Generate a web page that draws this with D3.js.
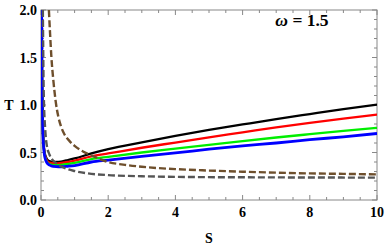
<!DOCTYPE html>
<html><head><meta charset="utf-8">
<script src="https://cdn.jsdelivr.net/npm/d3@7"></script>
<style>body{margin:0;background:#fff}svg{display:block}</style>
</head><body>
<svg id="c" width="388" height="249"></svg>
<script>
// Data
const blackS = [0.02,0.025,0.03,0.04,0.05,0.07,0.1,0.15,0.2,0.3,0.45,0.6,0.8,1,1.5,2,3,4,5,6,7,8,9,10];
const blackT = [2.0,1.6,1.3,1.0,0.82,0.63,0.52,0.45,0.42,0.405,0.40,0.405,0.42,0.437,0.49,0.535,0.607,0.675,0.737,0.795,0.852,0.905,0.957,1.005];
const redS = [0.02,0.025,0.03,0.04,0.05,0.07,0.1,0.15,0.2,0.3,0.45,0.6,0.8,1,1.5,2,3,4,5,6,7,8,9,10];
const redT = [2.0,1.6,1.3,1.0,0.81,0.62,0.505,0.435,0.405,0.39,0.385,0.39,0.40,0.415,0.46,0.49,0.55,0.605,0.66,0.712,0.765,0.812,0.856,0.898];
const greenS = [0.02,0.025,0.03,0.04,0.05,0.07,0.1,0.15,0.2,0.3,0.45,0.6,0.8,1,1.5,2,3,4,5,6,7,8,9,10];
const greenT = [2.0,1.6,1.3,1.0,0.8,0.61,0.49,0.42,0.39,0.372,0.366,0.37,0.38,0.39,0.43,0.455,0.50,0.54,0.58,0.62,0.658,0.693,0.727,0.76];
const blueS = [0.02,0.025,0.03,0.04,0.05,0.07,0.1,0.15,0.2,0.3,0.45,0.6,0.8,1,1.5,2,3,4,5,6,7,8,9,10];
const blueT = [2.0,1.6,1.3,1.0,0.79,0.6,0.48,0.41,0.38,0.36,0.352,0.35,0.355,0.362,0.40,0.42,0.46,0.495,0.535,0.57,0.60,0.635,0.665,0.70];
const brownS = [0.235,0.27,0.31,0.37,0.44,0.52,0.6,0.7,0.85,1.0,1.25,1.5,2,2.5,3,4,5,6,7,8,9,10];
const brownT = [2.0,1.75,1.5,1.25,1.03,0.87,0.77,0.69,0.62,0.57,0.51,0.47,0.40,0.37,0.35,0.325,0.31,0.298,0.288,0.28,0.275,0.27];
const grayS = [0.055,0.065,0.075,0.09,0.12,0.17,0.25,0.35,0.5,0.75,1.0,1.4,2,3,4.4,6,8,10];
const grayT = [2.0,1.6,1.25,1.0,0.77,0.58,0.48,0.42,0.375,0.33,0.305,0.28,0.262,0.25,0.242,0.239,0.237,0.235];
const xTicks = [0,2,4,6,8,10];
const yTicks = [0.0,0.5,1.0,1.5,2.0];
const xLabel = "S", yLabel = "T", annotation = "\u03c9 = 1.5";

const svg = d3.select("#c");
const L = 41, R = 377, Tp = 10, B = 200;
const x = d3.scaleLinear().domain([0,10]).range([L,R]);
const y = d3.scaleLinear().domain([0,2]).range([B,Tp]);

svg.append("defs").append("clipPath").attr("id","clip")
  .append("rect").attr("x",L).attr("y",Tp).attr("width",R-L).attr("height",B-Tp);

const frameColor = "#888";
svg.append("rect").attr("x",L).attr("y",Tp).attr("width",R-L).attr("height",B-Tp)
  .attr("fill","none").attr("stroke",frameColor).attr("stroke-width",1);

const g = svg.append("g");
const xMinor = d3.range(0,10.01,0.5).filter(v=>Math.abs(v/2-Math.round(v/2))>1e-6);
const yMinor = d3.range(0,2.001,0.1).filter(v=>Math.abs(v/0.5-Math.round(v/0.5))>1e-6);
function tickLines(vals, len, horiz){
  vals.forEach(v=>{
    if(horiz){
      const px = x(v);
      g.append("line").attr("x1",px).attr("x2",px).attr("y1",B).attr("y2",B-len).attr("stroke",frameColor);
      g.append("line").attr("x1",px).attr("x2",px).attr("y1",Tp).attr("y2",Tp+len).attr("stroke",frameColor);
    } else {
      const py = y(v);
      g.append("line").attr("x1",L).attr("x2",L+len).attr("y1",py).attr("y2",py).attr("stroke",frameColor);
      g.append("line").attr("x1",R).attr("x2",R-len).attr("y1",py).attr("y2",py).attr("stroke",frameColor);
    }
  });
}
tickLines(xTicks,5,true); tickLines(xMinor,3,true);
tickLines(yTicks,5,false); tickLines(yMinor,3,false);

const font = "'Liberation Serif','Times New Roman',serif";
svg.append("g").selectAll("text").data(xTicks).join("text")
  .attr("x",d=>x(d)).attr("y",217).attr("text-anchor","middle")
  .attr("font-family",font).attr("font-weight","bold").attr("font-size",14)
  .text(d=>d);
svg.append("g").selectAll("text").data(yTicks).join("text")
  .attr("x",37).attr("y",d=>y(d)+5).attr("text-anchor","end")
  .attr("font-family",font).attr("font-weight","bold").attr("font-size",14)
  .text(d=>d.toFixed(1));
svg.append("text").attr("x",209).attr("y",243).attr("text-anchor","middle")
  .attr("font-family",font).attr("font-weight","bold").attr("font-size",14).text(xLabel);
svg.append("text").attr("x",9).attr("y",110).attr("text-anchor","middle")
  .attr("font-family",font).attr("font-weight","bold").attr("font-size",14).text(yLabel);
const ann = svg.append("text").attr("x",302).attr("y",26).attr("text-anchor","middle")
  .attr("font-family",font).attr("font-weight","bold").attr("font-size",17.5);
ann.append("tspan").attr("font-style","italic").text("\u03c9");
ann.append("tspan").text(" = 1.5");

const line = d3.line().x(d=>x(d[0])).y(d=>y(d[1])).curve(d3.curveMonotoneX);
const plot = svg.append("g").attr("clip-path","url(#clip)");
const series = [
  {S:blackS,T:blackT,c:"#000000",w:2.3,dash:null},
  {S:redS,T:redT,c:"#ff0000",w:2.3,dash:null},
  {S:greenS,T:greenT,c:"#00ee00",w:2.3,dash:null},
  {S:blueS,T:blueT,c:"#0000ff",w:2.8,dash:null},
  {S:brownS,T:brownT,c:"#6e4f2c",w:2.4,dash:"7,3"},
  {S:grayS,T:grayT,c:"#555555",w:2.4,dash:"7,3"}
];
series.forEach(s=>{
  plot.append("path").datum(s.S.map((v,i)=>[v,s.T[i]]))
    .attr("d",line).attr("fill","none").attr("stroke",s.c)
    .attr("stroke-width",s.w).attr("stroke-dasharray",s.dash);
});
</script>
</body></html>
